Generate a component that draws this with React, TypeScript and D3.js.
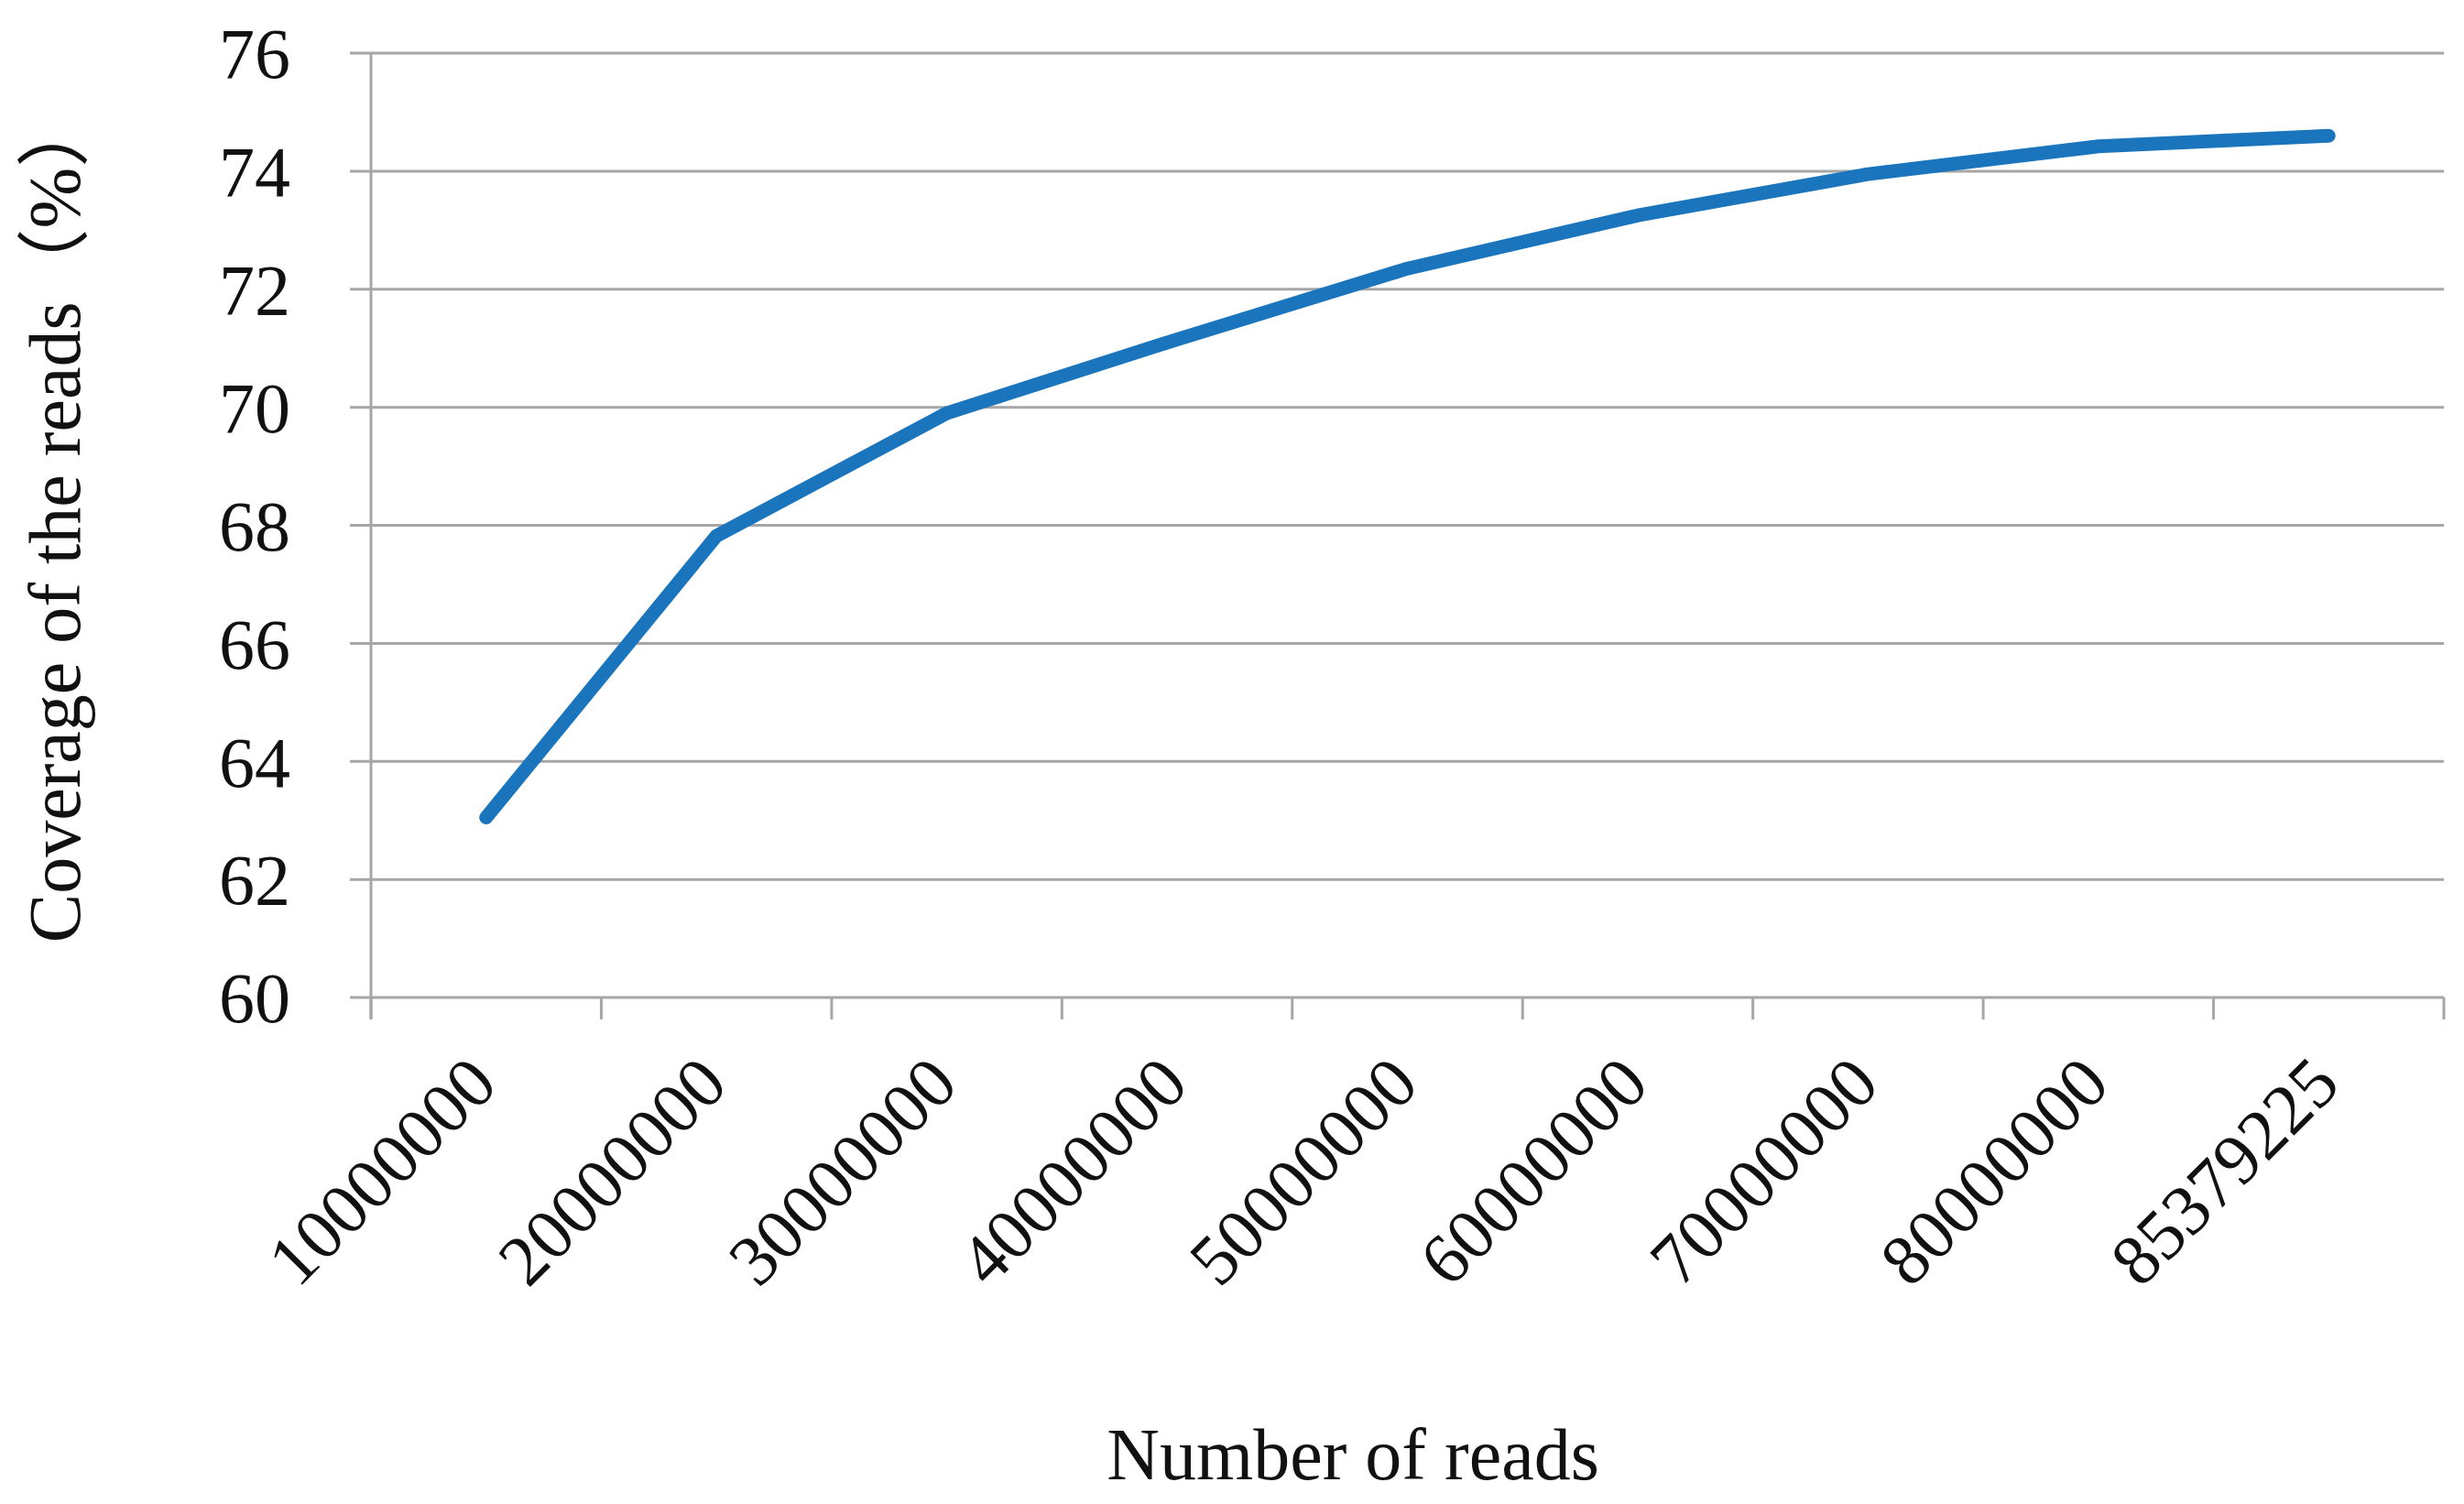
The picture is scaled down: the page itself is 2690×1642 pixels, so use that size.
import React, { useEffect, useRef } from 'react';
import * as d3 from 'd3';

const readCounts = ['10000000', '20000000', '30000000', '40000000', '50000000', '60000000', '70000000', '80000000', '85379225'];
const coverage = [63.05, 67.82, 69.9, 71.15, 72.35, 73.25, 73.95, 74.42, 74.6];
const yTicks = [60, 62, 64, 66, 68, 70, 72, 74, 76];

const WIDTH = 2690;
const HEIGHT = 1642;

function CoverageChart() {
    const svgRef = useRef(null);

    useEffect(() => {
        const svg = d3.select(svgRef.current);
        svg.selectAll('*').remove();

        const left = 405, right = 2668, top = 58, bottom = 1089;
        const font = '"Liberation Serif", "Times New Roman", serif';
        const gridColor = '#a6a6a6';

        const xScale = d3.scaleBand()
            .domain(readCounts)
            .range([left, right])
            .padding(0);

        const yScale = d3.scaleLinear()
            .domain([60, 76])
            .range([bottom, top]);

        // horizontal grid lines (they also act as the y ticks)
        svg.append('g')
            .selectAll('line')
            .data(yTicks)
            .join('line')
            .attr('x1', left - 23)
            .attr('x2', right)
            .attr('y1', d => yScale(d))
            .attr('y2', d => yScale(d))
            .attr('stroke', gridColor)
            .attr('stroke-width', 3);

        // y axis line
        svg.append('line')
            .attr('x1', left).attr('x2', left)
            .attr('y1', top).attr('y2', bottom + 24)
            .attr('stroke', gridColor)
            .attr('stroke-width', 3);

        // x ticks at band edges
        const edges = readCounts.map(c => xScale(c)).concat([right]);
        svg.append('g')
            .selectAll('line')
            .data(edges)
            .join('line')
            .attr('x1', d => d).attr('x2', d => d)
            .attr('y1', bottom).attr('y2', bottom + 24)
            .attr('stroke', gridColor)
            .attr('stroke-width', 3);

        // y tick labels
        svg.append('g')
            .selectAll('text')
            .data(yTicks)
            .join('text')
            .attr('x', 317)
            .attr('y', d => yScale(d))
            .attr('dy', '0.35em')
            .attr('text-anchor', 'end')
            .style('font-family', font)
            .style('font-size', '78px')
            .attr('fill', '#111')
            .text(d => d);

        // x tick labels, rotated
        svg.append('g')
            .selectAll('text')
            .data(readCounts)
            .join('text')
            .attr('transform', d => `translate(${xScale(d) + xScale.bandwidth() / 2 + 15}, ${bottom + 98}) rotate(-45)`)
            .attr('text-anchor', 'end')
            .style('font-family', font)
            .style('font-size', '78px')
            .attr('fill', '#111')
            .text(d => d);

        // the line
        const line = d3.line()
            .x((d, i) => xScale(readCounts[i]) + xScale.bandwidth() / 2)
            .y(d => yScale(d));

        svg.append('path')
            .datum(coverage)
            .attr('d', line)
            .attr('fill', 'none')
            .attr('stroke', '#1b75bc')
            .attr('stroke-width', 15)
            .attr('stroke-linecap', 'round')
            .attr('stroke-linejoin', 'round');

        // axis titles
        svg.append('text')
            .attr('x', 1477)
            .attr('y', 1615)
            .attr('text-anchor', 'middle')
            .style('font-family', font)
            .style('font-size', '80px')
            .attr('fill', '#111')
            .text('Number of reads');

        svg.append('text')
            .attr('transform', 'translate(87, 566) rotate(-90)')
            .attr('text-anchor', 'middle')
            .style('font-family', '"Liberation Serif", "Noto Sans CJK SC", serif')
            .style('font-size', '80px')
            .attr('fill', '#111')
            .text('Coverage of the reads（%）');
    }, []);

    return <svg ref={svgRef} width={WIDTH} height={HEIGHT} style={{ position: 'absolute', left: 0, top: 0, background: '#fff' }} />;
}

export default function App() {
    return <CoverageChart />;
}
